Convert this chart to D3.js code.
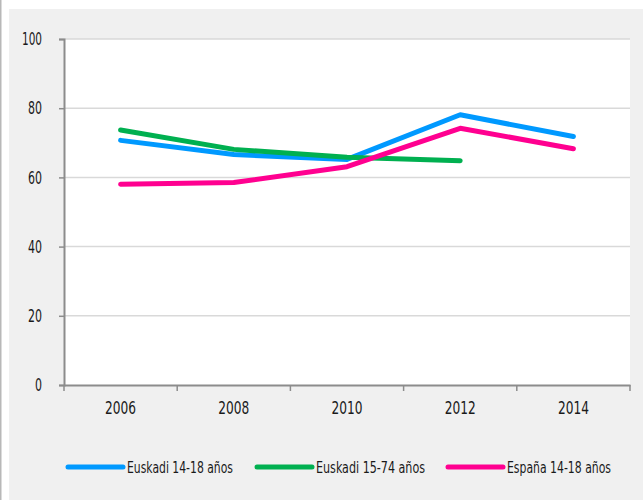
<!DOCTYPE html>
<html><head><meta charset="utf-8">
<script src="https://cdn.jsdelivr.net/npm/d3@7"></script>
<style>
html,body{margin:0;padding:0;background:#fff;}
svg{display:block;}
text{font-family:"DejaVu Sans Condensed","DejaVu Sans","Liberation Sans Narrow",sans-serif;font-stretch:condensed;fill:#1a1a1a;}
</style></head><body>
<svg id="c" width="643" height="500"></svg>
<script>
const years = ["2006","2008","2010","2012","2014"];
const yTicks = [0,20,40,60,80,100];
const seriesNames = ["Euskadi 14-18 años","Euskadi 15-74 años","España 14-18 años"];
const euskadi1418 = [70.7, 66.6, 65.2, 78.1, 71.8];
const euskadi1574 = [73.7, 68.1, 65.8, 64.8, null];
const espana1418 = [58.0, 58.5, 63.1, 74.2, 68.3];
const colors = ["#0099FF","#00B050","#FF0090"];

const svg = d3.select("#c");
svg.append("rect").attr("x",0).attr("y",0).attr("width",1.5).attr("height",500).attr("fill","#b8b8b8");
svg.append("rect").attr("x",9).attr("y",9).attr("width",634).attr("height",491).attr("fill","#f0f0f0");

const L=64, R=630, T=39, B=385;
svg.append("rect").attr("x",L).attr("y",T).attr("width",R-L).attr("height",B-T).attr("fill","#fff");

const x = d3.scaleBand().domain(years).range([L,R]);
const y = d3.scaleLinear().domain([0,100]).range([B,T]);

// gridlines
svg.append("g").selectAll("line").data(yTicks.filter(d=>d>0)).join("line")
  .attr("x1",L).attr("x2",R).attr("y1",d=>y(d)).attr("y2",d=>y(d))
  .attr("stroke","#d9d9d9").attr("stroke-width",1.5);

const labW = s => s.length===1 ? 7 : s.length===2 ? 14 : s.length===3 ? 20 : 31;

// y axis
const ya = svg.append("g").attr("transform",`translate(${L},0)`)
  .call(d3.axisLeft(y).tickValues(yTicks).tickSize(5).tickPadding(17));
ya.select(".domain").attr("stroke","#8c8c8c").attr("stroke-width",2);
ya.selectAll(".tick line").attr("stroke","#8c8c8c").attr("stroke-width",1.5);
ya.selectAll(".tick text").attr("font-size",18).attr("fill","#1a1a1a")
  .attr("font-family",null)
  .attr("textLength",d=>labW(String(d))).attr("lengthAdjust","spacingAndGlyphs");

// x axis
const xa = svg.append("g").attr("transform",`translate(0,${B})`)
  .call(d3.axisBottom(x).tickSize(0).tickPadding(16));
xa.select(".domain").attr("stroke","#8c8c8c").attr("stroke-width",2);
xa.selectAll(".tick text").attr("font-size",18).attr("fill","#1a1a1a").attr("font-family",null)
  .attr("textLength",d=>labW(d)).attr("lengthAdjust","spacingAndGlyphs");
// boundary ticks
const bounds = years.map(d=>x(d)).concat([R]);
svg.append("g").selectAll("line").data(bounds).join("line")
  .attr("x1",d=>d).attr("x2",d=>d).attr("y1",B).attr("y2",B+6)
  .attr("stroke","#8c8c8c").attr("stroke-width",1.5);

const line = d3.line().defined(d=>d.v!=null)
  .x(d=>x(d.year)+x.bandwidth()/2).y(d=>y(d.v));
[euskadi1418, euskadi1574, espana1418].forEach((arr,i)=>{
  svg.append("path").datum(arr.map((v,j)=>({year:years[j],v})))
    .attr("d",line).attr("fill","none").attr("stroke",colors[i])
    .attr("stroke-width",5).attr("stroke-linecap","round").attr("stroke-linejoin","round");
});

// legend
const legX = [68, 257, 448];
const legW = [106, 109, 104];
const lg = svg.append("g");
seriesNames.forEach((n,i)=>{
  lg.append("line").attr("x1",legX[i]).attr("x2",legX[i]+55).attr("y1",467).attr("y2",467)
    .attr("stroke",colors[i]).attr("stroke-width",5).attr("stroke-linecap","round");
  lg.append("text").attr("x",legX[i]+59).attr("y",473).attr("font-size",16)
    .attr("textLength",legW[i]).attr("lengthAdjust","spacingAndGlyphs").text(n);
});
</script></body></html>
